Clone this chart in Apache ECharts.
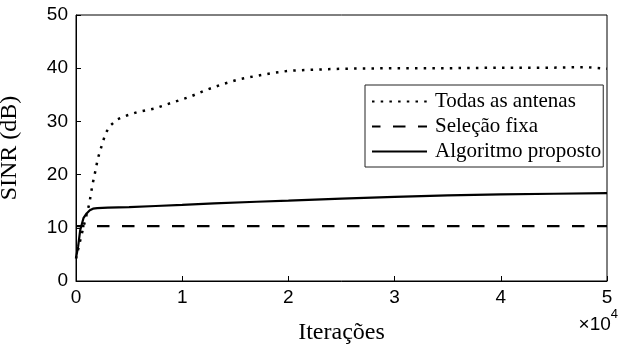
<!DOCTYPE html>
<html>
<head>
<meta charset="utf-8">
<script src="https://cdn.jsdelivr.net/npm/echarts@6/dist/echarts.min.js"></script>
<style>
	html, body { margin: 0; padding: 0; background: #fff; }
	#chart { width: 618px; height: 345px; }
</style>
</head>
<body>
<div id="chart"></div>
<script type="text/javascript">
	// valores (iteracoes, SINR em dB)
	var iterTodas = [0, 500, 1000, 1250, 1530, 1880, 2040, 2290, 2790, 3270, 3920, 4770, 5710, 7370, 9000, 10700, 12240, 13810, 15320, 16850, 18500, 20000, 22000, 25000, 30000, 35000, 40000, 45000, 48000, 50000];
	var sinrTodas = [4.2, 8.5, 12.5, 14.5, 17.9, 21.2, 22.9, 24.6, 27.8, 29.3, 30.4, 31.1, 31.7, 32.4, 33.5, 34.6, 35.9, 37.0, 37.9, 38.5, 39.1, 39.5, 39.7, 39.9, 40.0, 40.0, 40.1, 40.1, 40.2, 39.9];

	var iterFixa = [0, 50000];
	var sinrFixa = [10.3, 10.3];

	var iterProposto = [0, 200, 400, 700, 1000, 1300, 1600, 2000, 3000, 5000, 7500, 10000, 13000, 17000, 20000, 25000, 30000, 35000, 40000, 45000, 50000];
	var sinrProposto = [4.3, 6.5, 9.6, 11.8, 12.7, 13.3, 13.6, 13.7, 13.8, 13.9, 14.1, 14.3, 14.6, 14.9, 15.1, 15.5, 15.8, 16.1, 16.3, 16.4, 16.5];

	var xTicks = [0, 10000, 20000, 30000, 40000, 50000];
	var yTicks = [0, 10, 20, 30, 40, 50];
	var nomes = ['Todas as antenas', 'Seleção fixa', 'Algoritmo proposto'];

	function pares(xs, ys) {
		var out = [];
		for (var i = 0; i < xs.length; i++) {
			out.push([xs[i], ys[i]]);
		}
		return out;
	}

	var myChart = echarts.init(document.getElementById('chart'), null, { renderer: 'canvas' });
	var serif = 'Liberation Serif';
	var sans = 'Liberation Sans';

	var option = {
		animation: false,
		backgroundColor: '#fff',
		grid: {
			left: 76,
			right: 11,
			top: 15,
			bottom: 64,
			outerBoundsMode: 'none',
			containLabel: false,
			show: true,
			borderColor: '#000',
			borderWidth: 1
		},
		legend: {
			orient: 'vertical',
			left: 365,
			top: 85,
			data: nomes,
			backgroundColor: '#fff',
			borderColor: '#222',
			borderWidth: 1,
			borderRadius: 0,
			padding: [6, 2, 5, 6],
			itemGap: 4,
			itemWidth: 55,
			itemHeight: 22,
			itemStyle: { opacity: 0 },
			textStyle: {
				fontFamily: serif,
				fontSize: 21,
				color: '#000',
				padding: [0, 0, 0, 3]
			}
		},
		xAxis: {
			type: 'value',
			min: xTicks[0],
			max: xTicks[xTicks.length - 1],
			interval: 10000,
			name: 'Iterações',
			nameLocation: 'middle',
			nameGap: 40,
			nameTextStyle: { fontFamily: serif, fontSize: 24, color: '#000' },
			axisLine: { lineStyle: { color: '#000', width: 1 } },
			axisTick: { inside: true, length: 5, lineStyle: { color: '#000' } },
			axisLabel: {
				margin: 7,
				fontFamily: sans,
				fontSize: 19,
				color: '#000',
				formatter: function (v) { return v / 10000; }
			},
			splitLine: { show: false }
		},
		yAxis: {
			type: 'value',
			min: yTicks[0],
			max: yTicks[yTicks.length - 1],
			interval: 10,
			name: 'SINR (dB)',
			nameLocation: 'middle',
			nameGap: 54,
			nameTextStyle: { fontFamily: serif, fontSize: 24, color: '#000' },
			axisLine: { lineStyle: { color: '#000', width: 1 } },
			axisTick: { inside: true, length: 5, lineStyle: { color: '#000' } },
			axisLabel: {
				margin: 8,
				fontFamily: sans,
				fontSize: 19,
				color: '#000'
			},
			splitLine: { show: false }
		},
		graphic: [{
			type: 'text',
			right: 0,
			top: 308,
			style: {
				text: '{a|×10}{b|4}',
				rich: {
					a: { fontFamily: sans, fontSize: 19, color: '#000', verticalAlign: 'bottom', lineHeight: 26 },
					b: { fontFamily: sans, fontSize: 13, color: '#000', verticalAlign: 'top', lineHeight: 26, padding: [0, 0, 10, 0] }
				}
			}
		}],
		series: [{
			name: nomes[0],
			type: 'line',
			data: pares(iterTodas, sinrTodas),
			showSymbol: false,
			symbol: 'none',
			symbolSize: 0,
			itemStyle: { color: '#000' },
			lineStyle: { color: '#000', width: 2.5, type: [2.5, 6.2] }
		}, {
			name: nomes[1],
			type: 'line',
			data: pares(iterFixa, sinrFixa),
			showSymbol: false,
			symbol: 'none',
			symbolSize: 0,
			itemStyle: { color: '#000' },
			lineStyle: { color: '#000', width: 2.2, type: [12.5, 12.5], dashOffset: 4 }
		}, {
			name: nomes[2],
			type: 'line',
			data: pares(iterProposto, sinrProposto),
			showSymbol: false,
			symbol: 'none',
			symbolSize: 0,
			itemStyle: { color: '#000' },
			lineStyle: { color: '#000', width: 2.2 }
		}]
	};
	myChart.setOption(option);
</script>
</body>
</html>
